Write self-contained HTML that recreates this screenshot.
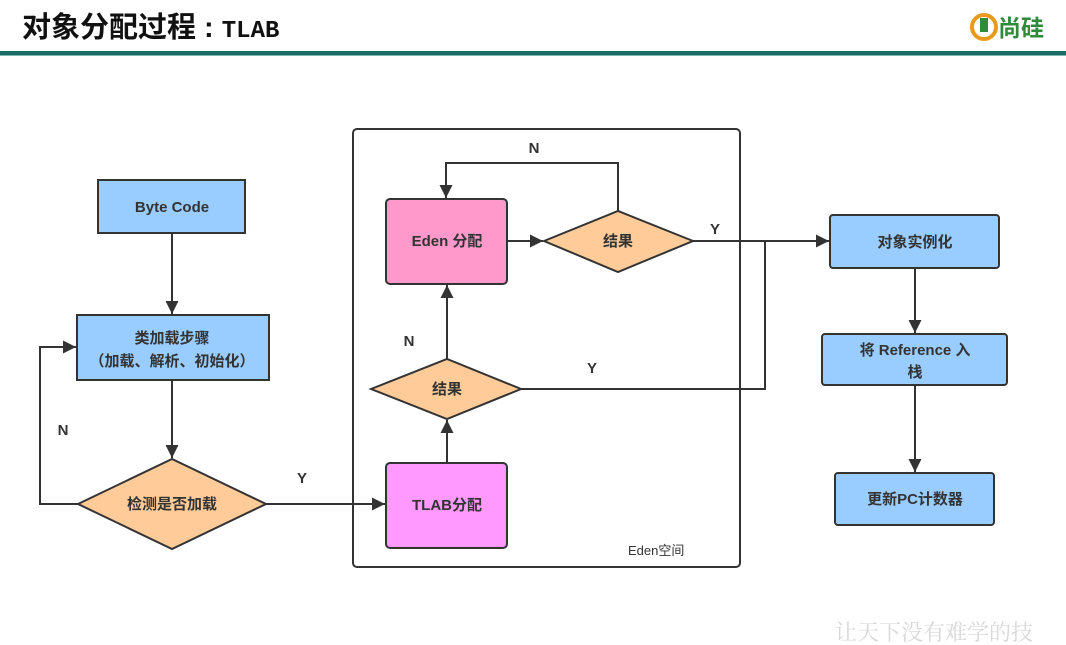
<!DOCTYPE html>
<html><head><meta charset="utf-8"><style>
html,body{margin:0;padding:0;background:#fff;width:1066px;height:645px;overflow:hidden}
svg text{font-family:"Liberation Sans","Noto Sans CJK SC",sans-serif;font-weight:bold;fill:#333}
</style></head><body>
<svg width="1066" height="645" viewBox="0 0 1066 645" xmlns="http://www.w3.org/2000/svg">
<defs><marker id="a" markerWidth="14" markerHeight="14" refX="13" refY="6.5" orient="auto" markerUnits="userSpaceOnUse"><path d="M0,0 L13,6.5 L0,13 z" fill="#333"/></marker></defs>
<text x="22" y="37" font-size="29" style="fill:#111;font-family:'Liberation Sans','Noto Sans CJK SC',sans-serif">对象分配过程 : <tspan style="font-family:'Liberation Mono',monospace" font-size="24">TLAB</tspan></text>
<circle cx="984" cy="27" r="12" fill="none" stroke="#e89a1c" stroke-width="4"/>
<rect x="980" y="18" width="8" height="14" fill="#2f8a3c"/>
<text x="998" y="36" font-size="23" style="fill:#2f8a3c">尚硅</text>
<rect x="0" y="51" width="1066" height="4" fill="#1b6e66"/>
<rect x="0" y="55" width="1066" height="1" fill="#7fb8b0"/>

<g stroke="#333" stroke-width="2" fill="none">
<rect x="353" y="129" width="387" height="438" rx="4"/>
<line x1="172" y1="233" x2="172" y2="314" marker-end="url(#a)"/>
<line x1="172" y1="380" x2="172" y2="458" marker-end="url(#a)"/>
<polyline points="78,504 40,504 40,347 76,347" marker-end="url(#a)"/>
<line x1="266" y1="504" x2="385" y2="504" marker-end="url(#a)"/>
<line x1="447" y1="463" x2="447" y2="420" marker-end="url(#a)"/>
<line x1="447" y1="359" x2="447" y2="285" marker-end="url(#a)"/>
<line x1="507" y1="241" x2="543" y2="241" marker-end="url(#a)"/>
<polyline points="618,211 618,163 446,163 446,198" marker-end="url(#a)"/>
<line x1="693" y1="241" x2="829" y2="241" marker-end="url(#a)"/>
<polyline points="521,389 765,389 765,241"/>
<line x1="915" y1="268" x2="915" y2="333" marker-end="url(#a)"/>
<line x1="915" y1="385" x2="915" y2="472" marker-end="url(#a)"/>
</g>

<g stroke="#333" stroke-width="2">
<rect x="98" y="180" width="147" height="53" fill="#99ccff"/>
<rect x="77" y="315" width="192" height="65" fill="#99ccff"/>
<polygon points="78,504 172,459 266,504 172,549" fill="#ffcc99"/>
<rect x="386" y="463" width="121" height="85" rx="4" fill="#ff99ff"/>
<polygon points="371,389 447,359 521,389 447,419" fill="#ffcc99"/>
<rect x="386" y="199" width="121" height="85" rx="4" fill="#ff99cc"/>
<polygon points="544,241 618,211 693,241 618,272" fill="#ffcc99"/>
<rect x="830" y="215" width="169" height="53" rx="3" fill="#99ccff"/>
<rect x="822" y="334" width="185" height="51" rx="3" fill="#99ccff"/>
<rect x="835" y="473" width="159" height="52" rx="3" fill="#99ccff"/>
</g>

<g text-anchor="middle" font-size="15">
<text x="172" y="212">Byte Code</text>
<text x="172" y="343">类加载步骤</text>
<text x="172" y="366">（加载、解析、初始化）</text>
<text x="172" y="509">检测是否加载</text>
<text x="447" y="510">TLAB分配</text>
<text x="447" y="394">结果</text>
<text x="447" y="246">Eden 分配</text>
<text x="618" y="246">结果</text>
<text x="915" y="247">对象实例化</text>
<text x="915" y="355">将 Reference 入</text>
<text x="915" y="377">栈</text>
<text x="915" y="504">更新PC计数器</text>
<text x="63" y="435">N</text>
<text x="302" y="483">Y</text>
<text x="409" y="346">N</text>
<text x="592" y="373">Y</text>
<text x="534" y="153">N</text>
<text x="715" y="234">Y</text>
</g>
<text x="628" y="555" font-size="13" style="font-weight:normal">Eden空间</text>
<text x="835" y="640" font-size="22" style="fill:#d8d8d8;font-weight:normal;font-family:'Noto Serif CJK SC',serif">让天下没有难学的技</text>
</svg>
</body></html>
